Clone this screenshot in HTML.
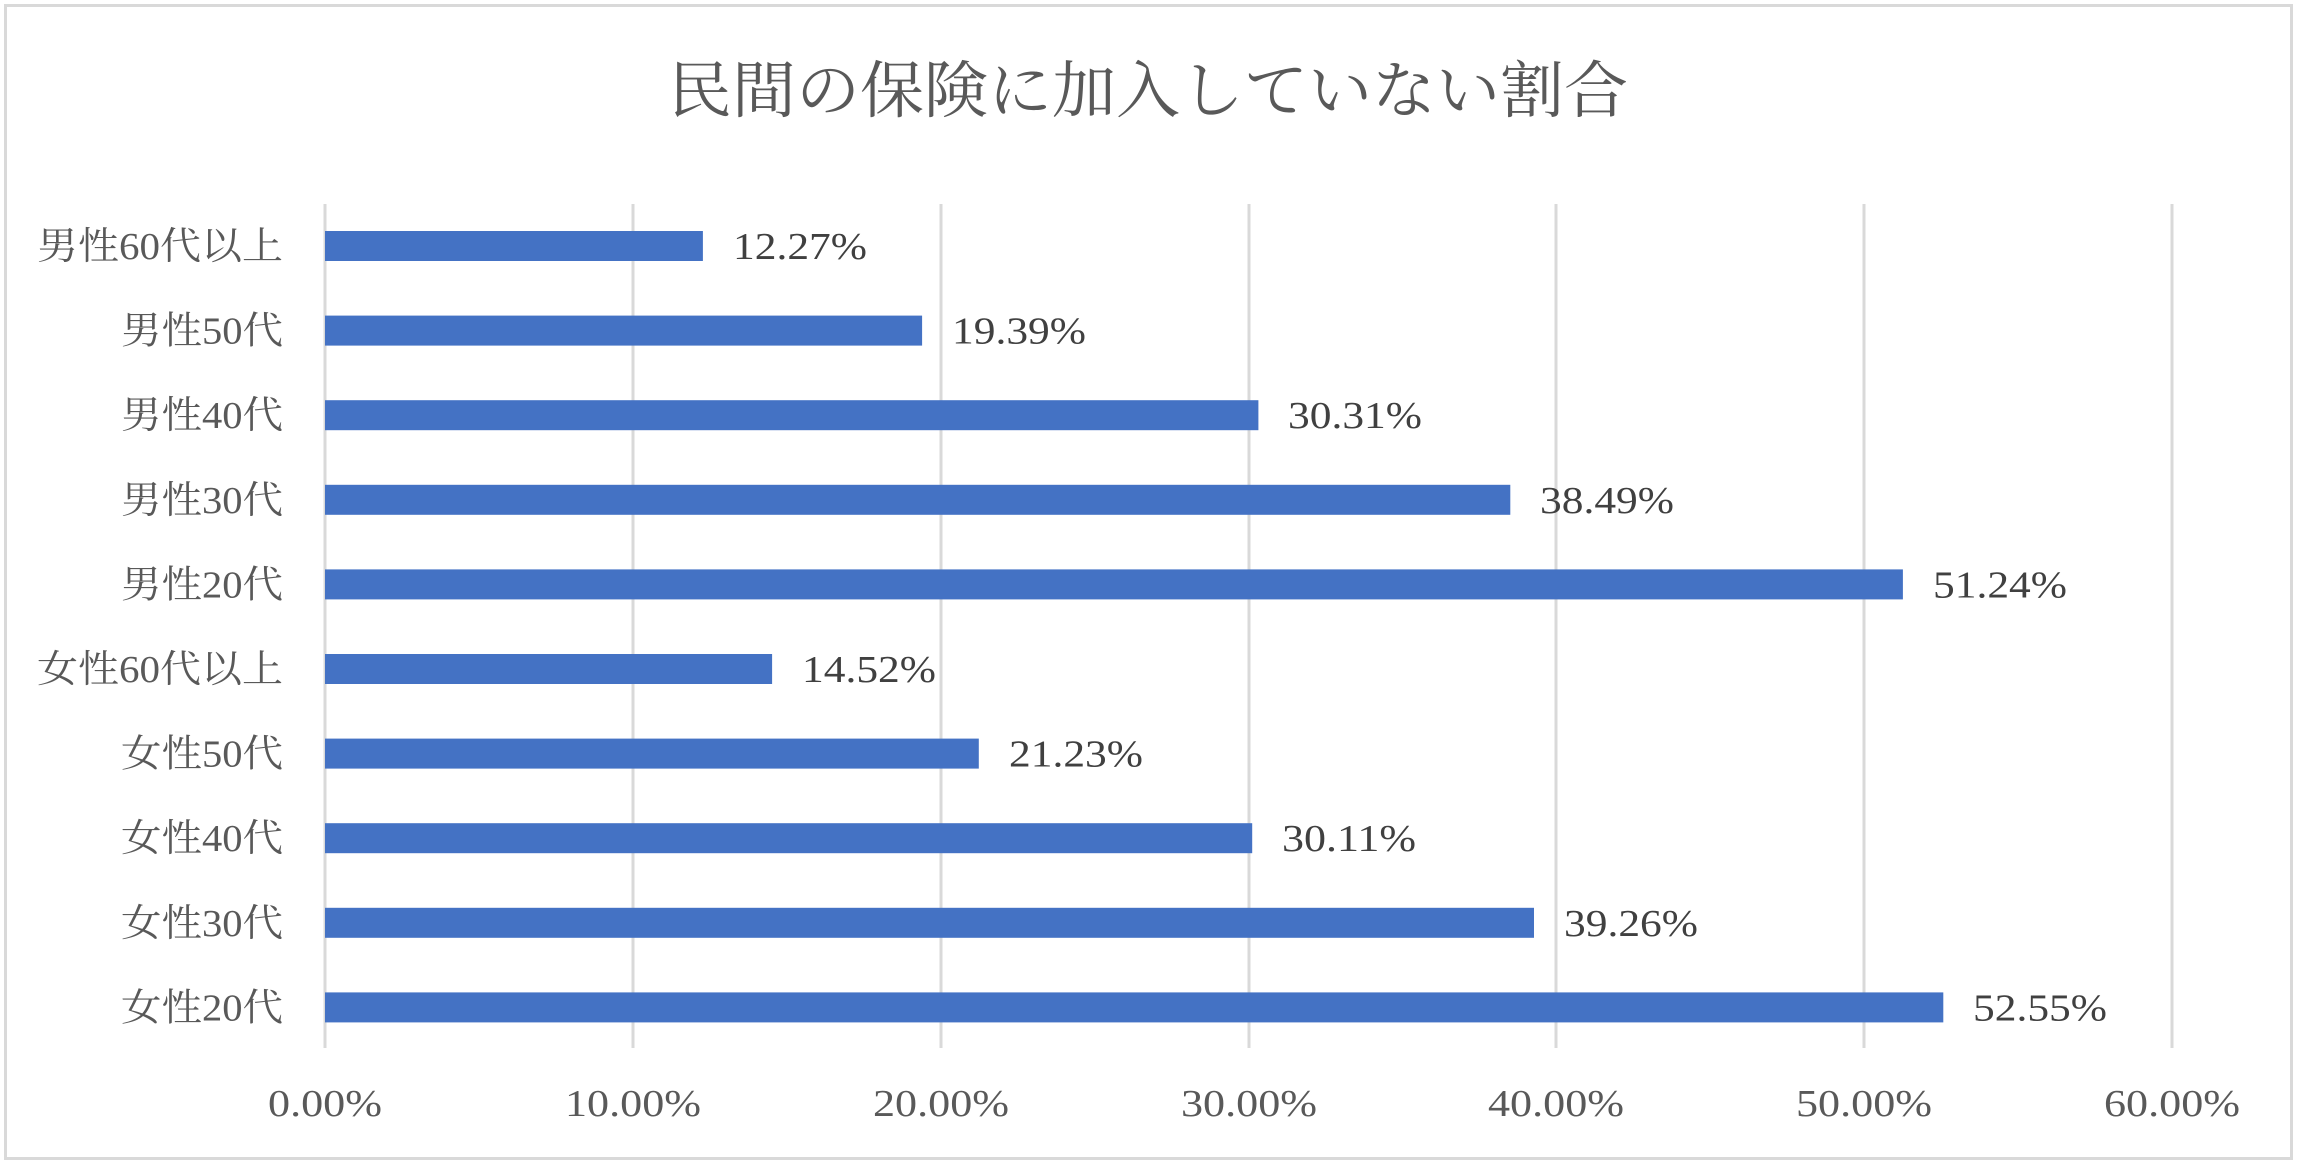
<!DOCTYPE html>
<html><head><meta charset="utf-8"><style>
html,body{margin:0;padding:0;background:#fff;}
svg{display:block;}
text{font-family:"Liberation Serif","Noto Serif CJK SC",serif;}
</style></head><body>
<svg width="2300" height="1168" viewBox="0 0 2300 1168" xmlns="http://www.w3.org/2000/svg">
<rect x="0" y="0" width="2300" height="1168" fill="#fff"/>
<rect x="5.5" y="5.5" width="2286" height="1153" fill="#fff" stroke="#d9d9d9" stroke-width="3"/>
<text x="1148" y="112" font-size="62" fill="#595959" text-anchor="middle" textLength="960" lengthAdjust="spacingAndGlyphs">民間の保険に加入していない割合</text>
<g stroke="#d9d9d9" stroke-width="3">
<line x1="325" y1="204" x2="325" y2="1048"/>
<line x1="633" y1="204" x2="633" y2="1048"/>
<line x1="941" y1="204" x2="941" y2="1048"/>
<line x1="1249" y1="204" x2="1249" y2="1048"/>
<line x1="1556" y1="204" x2="1556" y2="1048"/>
<line x1="1864" y1="204" x2="1864" y2="1048"/>
<line x1="2172" y1="204" x2="2172" y2="1048"/>
</g>
<g fill="#4472C4">
<rect x="325" y="231" width="377.9" height="30"/>
<rect x="325" y="315.6" width="597.1" height="30"/>
<rect x="325" y="400.2" width="933.4" height="30"/>
<rect x="325" y="484.8" width="1185.3" height="30"/>
<rect x="325" y="569.4" width="1577.9" height="30"/>
<rect x="325" y="654" width="447.1" height="30"/>
<rect x="325" y="738.6" width="653.8" height="30"/>
<rect x="325" y="823.2" width="927.2" height="30"/>
<rect x="325" y="907.8" width="1209.0" height="30"/>
<rect x="325" y="992.4" width="1618.3" height="30"/>
</g>
<g font-size="38" fill="#595959" text-anchor="end">
<text x="283" y="259" textLength="246" lengthAdjust="spacingAndGlyphs">男性60代以上</text>
<text x="283" y="343.6" textLength="162" lengthAdjust="spacingAndGlyphs">男性50代</text>
<text x="283" y="428.2" textLength="162" lengthAdjust="spacingAndGlyphs">男性40代</text>
<text x="283" y="512.8" textLength="162" lengthAdjust="spacingAndGlyphs">男性30代</text>
<text x="283" y="597.4" textLength="162" lengthAdjust="spacingAndGlyphs">男性20代</text>
<text x="283" y="682" textLength="246" lengthAdjust="spacingAndGlyphs">女性60代以上</text>
<text x="283" y="766.6" textLength="162" lengthAdjust="spacingAndGlyphs">女性50代</text>
<text x="283" y="851.2" textLength="162" lengthAdjust="spacingAndGlyphs">女性40代</text>
<text x="283" y="935.8" textLength="162" lengthAdjust="spacingAndGlyphs">女性30代</text>
<text x="283" y="1020.4" textLength="162" lengthAdjust="spacingAndGlyphs">女性20代</text>
</g>
<g font-size="38" fill="#404040">
<text x="733" y="259" textLength="134" lengthAdjust="spacingAndGlyphs">12.27%</text>
<text x="952" y="343.6" textLength="134" lengthAdjust="spacingAndGlyphs">19.39%</text>
<text x="1288" y="428.2" textLength="134" lengthAdjust="spacingAndGlyphs">30.31%</text>
<text x="1540" y="512.8" textLength="134" lengthAdjust="spacingAndGlyphs">38.49%</text>
<text x="1933" y="597.4" textLength="134" lengthAdjust="spacingAndGlyphs">51.24%</text>
<text x="802" y="682" textLength="134" lengthAdjust="spacingAndGlyphs">14.52%</text>
<text x="1009" y="766.6" textLength="134" lengthAdjust="spacingAndGlyphs">21.23%</text>
<text x="1282" y="851.2" textLength="134" lengthAdjust="spacingAndGlyphs">30.11%</text>
<text x="1564" y="935.8" textLength="134" lengthAdjust="spacingAndGlyphs">39.26%</text>
<text x="1973" y="1020.4" textLength="134" lengthAdjust="spacingAndGlyphs">52.55%</text>
</g>
<g font-size="38" fill="#595959" text-anchor="middle">
<text x="325" y="1116" textLength="114" lengthAdjust="spacingAndGlyphs">0.00%</text>
<text x="633" y="1116" textLength="136" lengthAdjust="spacingAndGlyphs">10.00%</text>
<text x="941" y="1116" textLength="136" lengthAdjust="spacingAndGlyphs">20.00%</text>
<text x="1249" y="1116" textLength="136" lengthAdjust="spacingAndGlyphs">30.00%</text>
<text x="1556" y="1116" textLength="136" lengthAdjust="spacingAndGlyphs">40.00%</text>
<text x="1864" y="1116" textLength="136" lengthAdjust="spacingAndGlyphs">50.00%</text>
<text x="2172" y="1116" textLength="136" lengthAdjust="spacingAndGlyphs">60.00%</text>
</g>
</svg>
</body></html>
